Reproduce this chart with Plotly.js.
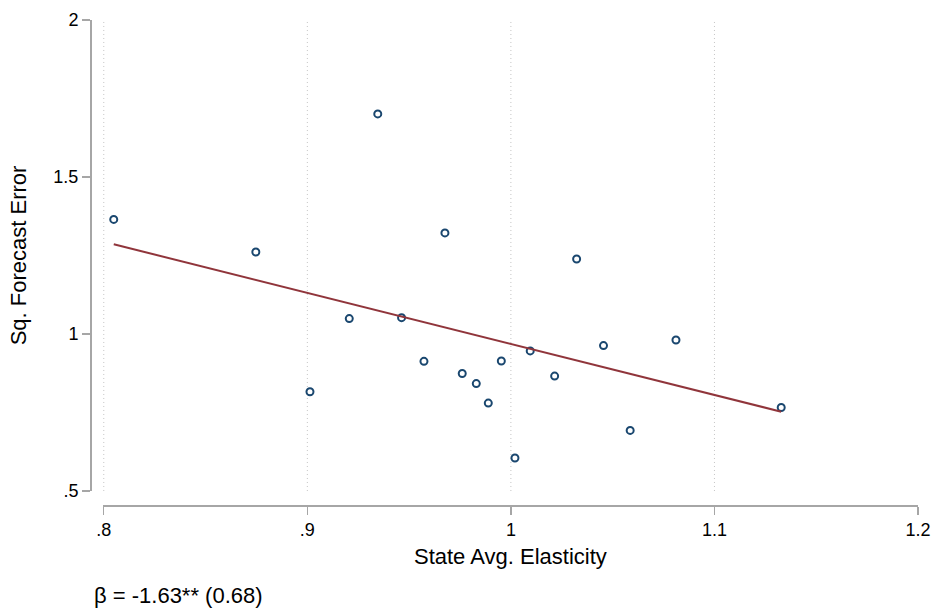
<!DOCTYPE html>
<html><head><meta charset="utf-8">
<script src="https://cdn.plot.ly/plotly-3.0.1.min.js"></script>
<style>html,body{margin:0;padding:0;background:#fff}#c{width:933px;height:610px}</style>
</head><body><div id="c"></div>
<script>
const elasticity = [0.8049, 0.8747, 0.9013, 0.9206, 0.9346, 0.9463, 0.9573, 0.9676, 0.9761, 0.9830, 0.9889, 0.9953, 1.0020, 1.0095, 1.0215, 1.0323, 1.0455, 1.0586, 1.0811, 1.1328];
const sqError   = [1.365, 1.261, 0.816, 1.049, 1.701, 1.052, 0.913, 1.322, 0.874, 0.842, 0.780, 0.914, 0.605, 0.946, 0.866, 1.239, 0.963, 0.693, 0.981, 0.766];
const fitX = [0.8049, 1.1328];
const fitY = [1.2857, 0.7525];
const xTickVals = [0.8, 0.9, 1.0, 1.1, 1.2];
const xTickText = ['.8', '.9', '1', '1.1', '1.2'];
const xGridVals = [0.8, 0.9, 1.0, 1.1];
const yTickVals = [0.5, 1, 1.5, 2];
const yTickText = ['.5', '1', '1.5', '2'];
const noteText = 'β = -1.63** (0.68)';

const font = 'Liberation Sans, Arial, sans-serif';
const axisGray = '#a6a6a6';
const traces = [
  {x: elasticity, y: sqError, type: 'scatter', mode: 'markers',
   marker: {symbol: 'circle-open', size: 7, color: '#1a476f', line: {width: 2, color: '#1a476f'}}},
  {x: fitX, y: fitY, type: 'scatter', mode: 'lines',
   line: {color: '#90353b', width: 2}}
];
const gridShapes = xGridVals.map(v => ({
  type: 'line', xref: 'x', yref: 'y', x0: v, x1: v, y0: 0.5, y1: 2, layer: 'below',
  line: {color: '#c4c4c4', width: 1, dash: '1px,3px'}
}));
const layout = {
  width: 933, height: 610,
  margin: {l: 90, r: 15, t: 20, b: 105},
  paper_bgcolor: '#fff', plot_bgcolor: '#fff',
  showlegend: false,
  font: {family: font, color: '#000', size: 18},
  xaxis: {
    domain: [0.0154, 1], range: [0.7995, 1.2], anchor: 'free', position: 0,
    tickvals: xTickVals, ticktext: xTickText,
    showline: true, linecolor: axisGray, linewidth: 1.5,
    ticks: 'outside', ticklen: 8, tickcolor: axisGray, tickwidth: 1.3,
    showgrid: false, zeroline: false, tickfont: {size: 18, family: font, color: '#000'},
    title: {text: 'State Avg. Elasticity', font: {size: 22, family: font, color: '#000'}, standoff: 9}
  },
  yaxis: {
    domain: [0.0289, 1], range: [0.5, 2], anchor: 'free', position: 0,
    tickvals: yTickVals, ticktext: yTickText,
    showline: true, linecolor: axisGray, linewidth: 1.5,
    ticks: 'outside', ticklen: 8, tickcolor: axisGray, tickwidth: 1.3,
    showgrid: false, zeroline: false, tickfont: {size: 18, family: font, color: '#000'},
    title: {text: 'Sq. Forecast Error', font: {size: 22, family: font, color: '#000'}, standoff: 19}
  },
  shapes: gridShapes,
  annotations: [{
    text: noteText, xref: 'paper', yref: 'paper', x: 0.0024, y: -0.1856,
    xanchor: 'left', yanchor: 'middle', showarrow: false,
    font: {size: 22, family: font, color: '#000'}
  }]
};
Plotly.newPlot('c', traces, layout, {displayModeBar: false, staticPlot: true});
</script></body></html>
